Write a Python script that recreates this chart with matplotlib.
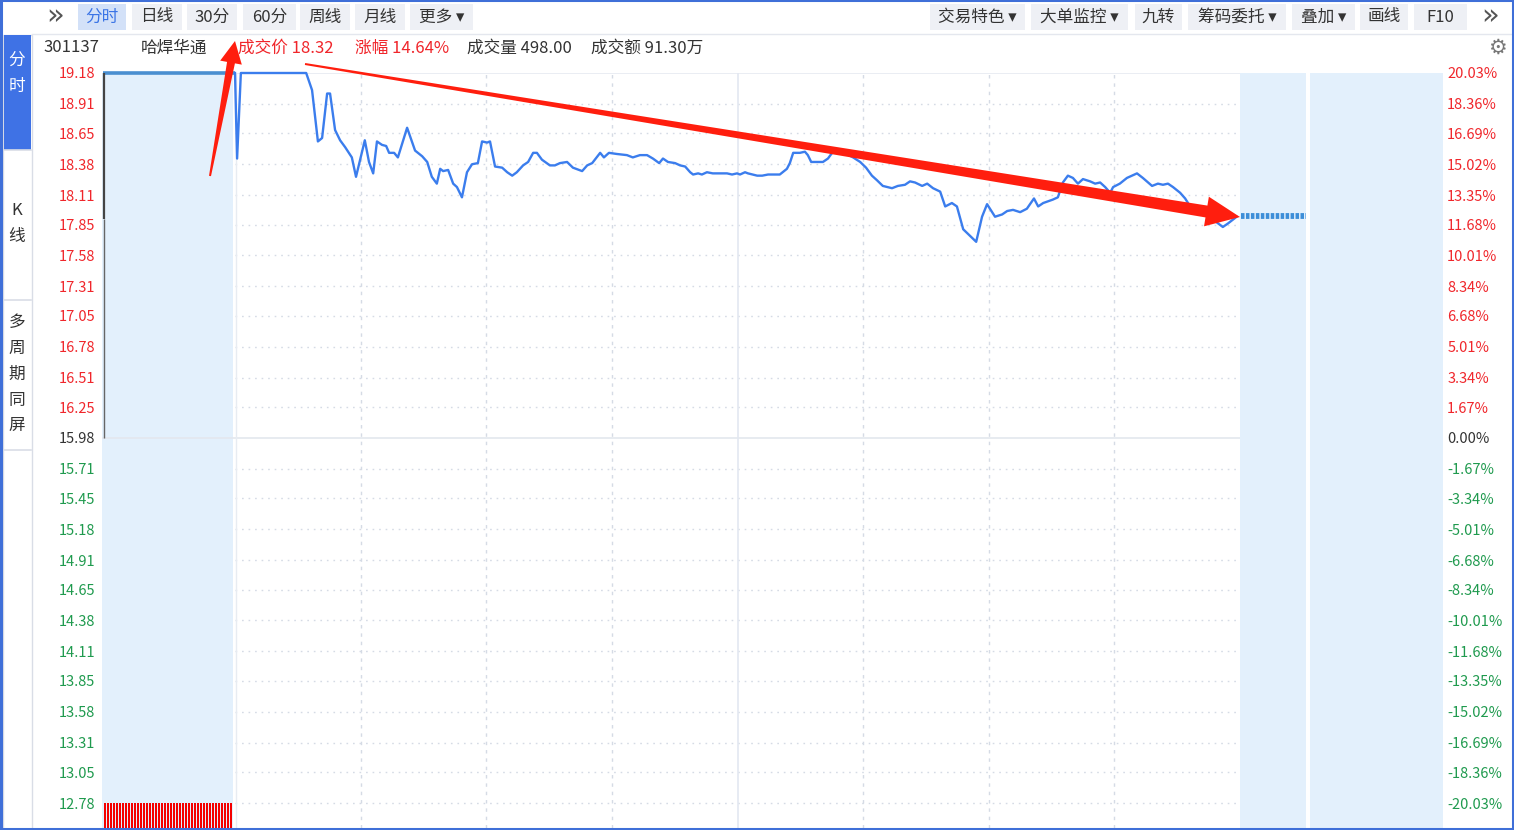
import numpy as np
import matplotlib
matplotlib.use("Agg")
import matplotlib.pyplot as plt
from matplotlib.patches import Rectangle, Polygon
from matplotlib.transforms import Affine2D

plt.rcParams['font.family'] = ['Noto Sans CJK SC', 'DejaVu Sans']

# ---------------- data ----------------
minutes = [0.0, 0.5, 1.4, 17.0, 18.4, 19.8, 20.8, 22.0, 22.7, 23.9, 25.1, 26.3, 27.9, 28.9,
           31.0, 32.0, 33.0, 33.9, 35.1, 36.1, 36.8, 38.0, 38.9, 41.1, 43.0, 44.7, 45.9,
           47.0, 48.2, 49.0, 49.7, 50.9, 52.1, 53.0, 54.2, 55.4, 56.6, 58.0, 59.0, 60.2,
           60.9, 62.1, 63.8, 65.0, 66.2, 67.3, 68.8, 70.0, 71.2, 72.1, 73.3, 75.2, 76.4,
           77.6, 79.3, 80.7, 82.9, 84.1, 85.3, 87.2, 88.1, 89.3, 91.2, 93.6, 95.0, 96.7,
           98.4, 99.8, 101.3, 102.2, 103.4, 105.1, 106.3, 107.5, 108.7, 109.4, 110.6,
           111.5, 112.7, 114.1, 117.5, 118.7, 119.9, 120.6, 121.8, 122.5, 124.7, 125.9,
           127.3, 130.1, 131.8, 132.5, 133.3, 134.9, 136.1, 136.8, 137.6, 140.4, 141.6,
           142.6, 145.0, 147.6, 149.3, 150.7, 152.1, 153.3, 154.7, 156.9, 158.3, 160.0,
           161.2, 162.4, 164.1, 165.3, 166.7, 168.4, 169.6, 171.2, 172.4, 173.9, 175.3,
           177.0, 178.4, 179.6, 181.5, 183.2, 184.4, 185.8, 187.5, 189.1, 190.8, 191.8,
           193.0, 195.3, 196.5, 197.7, 198.9, 200.1, 201.3, 202.5, 204.2, 205.4, 206.6,
           207.8, 209.0, 209.7, 211.3, 213.0, 215.4, 216.8, 219.0, 220.4, 221.6, 222.8,
           224.0, 225.7, 226.9, 228.1, 231.6, 235.9, 237.1, 239.2]
prices = [19.18, 18.43, 19.18, 19.18, 19.03, 18.58, 18.61, 19.00, 19.00, 18.68, 18.59, 18.53,
          18.44, 18.27, 18.59, 18.40, 18.30, 18.58, 18.55, 18.54, 18.48, 18.48, 18.44, 18.70,
          18.50, 18.45, 18.40, 18.27, 18.21, 18.34, 18.32, 18.33, 18.21, 18.18, 18.09, 18.31,
          18.38, 18.39, 18.58, 18.57, 18.58, 18.36, 18.35, 18.31, 18.28, 18.31, 18.37, 18.40,
          18.48, 18.48, 18.42, 18.37, 18.37, 18.39, 18.40, 18.35, 18.32, 18.37, 18.39, 18.48,
          18.44, 18.48, 18.47, 18.46, 18.44, 18.46, 18.46, 18.43, 18.39, 18.43, 18.40, 18.39,
          18.37, 18.36, 18.31, 18.29, 18.30, 18.29, 18.31, 18.30, 18.30, 18.29, 18.30, 18.29,
          18.31, 18.30, 18.28, 18.28, 18.29, 18.29, 18.34, 18.39, 18.48, 18.48, 18.49, 18.46,
          18.40, 18.40, 18.43, 18.48, 18.49, 18.44, 18.40, 18.35, 18.28, 18.24, 18.19, 18.17,
          18.19, 18.20, 18.23, 18.22, 18.19, 18.21, 18.17, 18.14, 18.01, 18.04, 18.01, 17.81,
          17.76, 17.70, 17.92, 18.03, 17.92, 17.94, 17.97, 17.98, 17.96, 17.99, 18.08, 18.01,
          18.04, 18.07, 18.09, 18.22, 18.28, 18.26, 18.21, 18.25, 18.23, 18.21, 18.22, 18.18,
          18.13, 18.18, 18.21, 18.26, 18.30, 18.26, 18.19, 18.21, 18.20, 18.21, 18.18, 18.13,
          18.08, 18.01, 17.95, 17.83, 17.86, 17.92]

price_ticks = [19.18, 18.91, 18.65, 18.38, 18.11, 17.85, 17.58, 17.31, 17.05, 16.78, 16.51,
               16.25, 15.98, 15.71, 15.45, 15.18, 14.91, 14.65, 14.38, 14.11, 13.85, 13.58,
               13.31, 13.05, 12.78]
pct_labels = ['20.03%', '18.36%', '16.69%', '15.02%', '13.35%', '11.68%', '10.01%', '8.34%',
              '6.68%', '5.01%', '3.34%', '1.67%', '0.00%', '-1.67%', '-3.34%', '-5.01%',
              '-6.68%', '-8.34%', '-10.01%', '-11.68%', '-13.35%', '-15.02%', '-16.69%',
              '-18.36%', '-20.03%']
prev_close = 15.98
limit_up = 19.18
auction_low = 17.90
post_price = 17.93
auction_volume = [1, 1, 1, 1, 1, 1, 1, 1, 1, 1, 1, 1, 1, 1, 1, 1, 1, 1, 1, 1, 1, 1,
                  1, 1, 1, 1, 1, 1, 1, 1, 1, 1, 1, 1, 1, 1, 1, 1, 1, 1, 1, 1, 1]

left_buttons = ['分时', '日线', '30分', '60分', '周线', '月线', '更多 ▾']
right_buttons = ['交易特色 ▾', '大单监控 ▾', '九转', '筹码委托 ▾', '叠加 ▾', '画线', 'F10']
info_items = [('301137', '#333333'), ('哈焊华通', '#333333'), ('成交价 18.32', '#f0262b'),
              ('涨幅 14.64%', '#f0262b'), ('成交量 498.00', '#333333'), ('成交额 91.30万', '#333333')]

# ---------------- figure ----------------
W, H = 1514, 830
fig = plt.figure(figsize=(W / 100, H / 100), dpi=100)
fig.patch.set_facecolor('white')
px = Affine2D().scale(1 / W, -1 / H).translate(0, 1) + fig.transFigure

RED = '#f0262b'
GREEN = '#1f9a4e'
DARK = '#333333'
SHADE = '#e3f0fc'
BLUE = '#3b7ded'

# main axes
x0p, x1p, y0p, y1p = 102, 1443, 73, 828
ax = fig.add_axes([x0p / W, (H - y1p) / H, (x1p - x0p) / W, (y1p - y0p) / H])
ax.set_facecolor('none')
ppm = (1240 - 235) / 240.0
xmin = (x0p - 235) / ppm
xmax = (x1p - 235) / ppm
ymax = limit_up
ymin = limit_up - (y1p - y0p) * (price_ticks[0] - price_ticks[-1]) / (803 - 73)
ax.set_xlim(xmin, xmax)
ax.set_ylim(ymin, ymax)
for s in ax.spines.values():
    s.set_visible(False)

# shaded zones
ax.axvspan(xmin, (233 - 235) / ppm, color=SHADE, lw=0, zorder=0)
ax.axvspan(240, (1306 - 235) / ppm, color=SHADE, lw=0, zorder=0)
ax.axvspan((1310 - 235) / ppm, xmax, color=SHADE, lw=0, zorder=0)

# grid
for p in price_ticks:
    if p == prev_close:
        ax.hlines(p, xmin, 240, color='#e3e7ee', lw=1.2, zorder=1)
    elif p == limit_up:
        ax.hlines(p, 0, 240, color='#e6eaf1', lw=1.2, zorder=1)
    else:
        ax.hlines(p, 0, 240, color='#d5dbe5', lw=1, linestyles=(0, (1.2, 3.5)), zorder=1)
for m in [30, 60, 90, 150, 180, 210]:
    ax.vlines(m, ymin, ymax, color='#d5dbe5', lw=1, linestyles=(0, (2.5, 3.5)), zorder=1)
ax.vlines(120, ymin, ymax, color='#e3e8f1', lw=1.2, zorder=1)
ax.vlines(0.3, ymin, ymax, color='#e8ecf2', lw=1, zorder=1)

# pre-market marks
ax.hlines(limit_up, xmin + 0.3, 0, color='#4a8fd0', lw=2.6, zorder=3, clip_on=False)
ax.vlines(xmin + 0.5, auction_low, limit_up, color='#444444', lw=1.6, zorder=3)
ax.vlines(xmin + 0.5, prev_close, auction_low, color='#666666', lw=1.0, zorder=3)

# intraday price line
ax.plot(minutes, prices, color=BLUE, lw=1.7, zorder=4, clip_on=False, solid_joinstyle='round')

# post-market
ax.hlines(post_price, 240.3, (1306 - 235) / ppm, color='#3d8ed8', lw=4.2,
          linestyles=(0, (0.6, 0.25)), zorder=4)

# ticks
ax.set_yticks(price_ticks)
ax.set_yticklabels([f'{p:.2f}' for p in price_ticks])
ax.tick_params(axis='y', length=0, pad=5, labelsize=10.5)
ax.set_xticks([])
for p, lab in zip(price_ticks, ax.get_yticklabels()):
    lab.set_color(RED if p > prev_close else (DARK if p == prev_close else GREEN))
    lab.set_fontweight('medium')

ax2 = ax.twinx()
ax2.set_ylim(ymin, ymax)
ax2.set_yticks(price_ticks)
ax2.set_yticklabels(pct_labels)
ax2.tick_params(axis='y', length=0, pad=3, labelsize=10.5)
for s in ax2.spines.values():
    s.set_visible(False)
for p, lab in zip(price_ticks, ax2.get_yticklabels()):
    lab.set_color(RED if p > prev_close else (DARK if p == prev_close else GREEN))
    lab.set_fontweight('medium')

# auction volume strip
vax = fig.add_axes([x0p / W, (H - 828) / H, (x1p - x0p) / W, (828 - 803) / H])
vax.set_facecolor('none')
vax.set_xlim(xmin, xmax)
vax.set_ylim(0, max(auction_volume))
vax.axis('off')
vpos = np.linspace((105 - 235) / ppm, (231 - 235) / ppm, len(auction_volume))
vax.bar(vpos, auction_volume, width=0.48, color='#f40000', lw=0, antialiased=False)

# ---------------- UI chrome ----------------
def rect(x, y, w, h, fc, ec='none', lw=0, z=0):
    fig.patches.append(Rectangle((x, y), w, h, transform=px, facecolor=fc, edgecolor=ec,
                                 lw=lw, zorder=z))

def txt(x, y, s, color=DARK, size=12, ha='left', va='center', **kw):
    fig.text(x / W, 1 - y / H, s, color=color, fontsize=size, ha=ha, va=va, **kw)

# toolbar separator
fig.add_artist(plt.Line2D([32 / W, 1], [1 - 34 / H, 1 - 34 / H], color='#e4e7ee', lw=1))

# left buttons
lb_pos = [(78, 126), (132, 182), (187, 237), (243, 296), (300, 350), (355, 405), (410, 473)]
for (a, b), lab in zip(lb_pos, left_buttons):
    sel = lab == '分时'
    rect(a, 4, b - a, 26, '#d3e1f8' if sel else '#eef0f5')
    txt((a + b) / 2, 17, lab, color='#3a74e6' if sel else DARK, ha='center')
rb_pos = [(930, 1025), (1031, 1128), (1135, 1182), (1188, 1286), (1292, 1355), (1360, 1408),
          (1414, 1467)]
for (a, b), lab in zip(rb_pos, right_buttons):
    rect(a, 4, b - a, 26, '#eef0f5')
    txt((a + b) / 2, 17, lab, ha='center')
txt(55, 16, '»', color='#555555', size=21, ha='center', family=['DejaVu Sans'])
txt(1490, 16, '»', color='#555555', size=21, ha='center', family=['DejaVu Sans'])

# info row
info_x = [43, 141, 238, 355, 467, 591]
for xx, (s, c) in zip(info_x, info_items):
    txt(xx, 48, s, color=c, size=12)
txt(1497, 48, '⚙', color='#777777', size=15, ha='center', family=['DejaVu Sans'])

# sidebar
rect(3, 35, 29, 795, 'white', ec='#d9dde6', lw=1)
rect(4, 35, 27, 115, '#3f72e5')
for yy, ch in [(60, '分'), (86, '时')]:
    txt(17, yy, ch, color='white', size=12, ha='center')
for yy, ch in [(210, 'K'), (236, '线')]:
    txt(17, yy, ch, color=DARK, size=12, ha='center')
for yy, ch in zip([322, 348, 374, 400, 425], '多周期同屏'):
    txt(17, yy, ch, color=DARK, size=12, ha='center')
for yy in [150, 300, 450]:
    fig.add_artist(plt.Line2D([4 / W, 31 / W], [1 - yy / H, 1 - yy / H], color='#d9dde6', lw=1.2))

# window border
rect(0.5, 0.5, W - 1.5, H - 1.5, 'none', ec='#3f6fd8', lw=2.2, z=10)

# red annotation arrows
def arrow(x0, y0, x1, y1, w0, w1, hw, hl, color='#ff1e0e'):
    d = np.array([x1 - x0, y1 - y0], float)
    d /= np.hypot(*d)
    n = np.array([-d[1], d[0]])
    t = np.array([x0, y0], float)
    tip = np.array([x1, y1], float)
    base = tip - d * hl
    pts = [t + n * w0 / 2, base + n * w1 / 2, base + n * hw / 2, tip,
           base - n * hw / 2, base - n * w1 / 2, t - n * w0 / 2]
    fig.patches.append(Polygon(pts, closed=True, transform=px, facecolor=color,
                               edgecolor='none', zorder=20))

arrow(210, 176, 235, 41, 2, 8, 22, 22)
arrow(305, 64, 1240, 217, 2, 12, 30, 34)

fig.savefig('out.png', dpi=100)
